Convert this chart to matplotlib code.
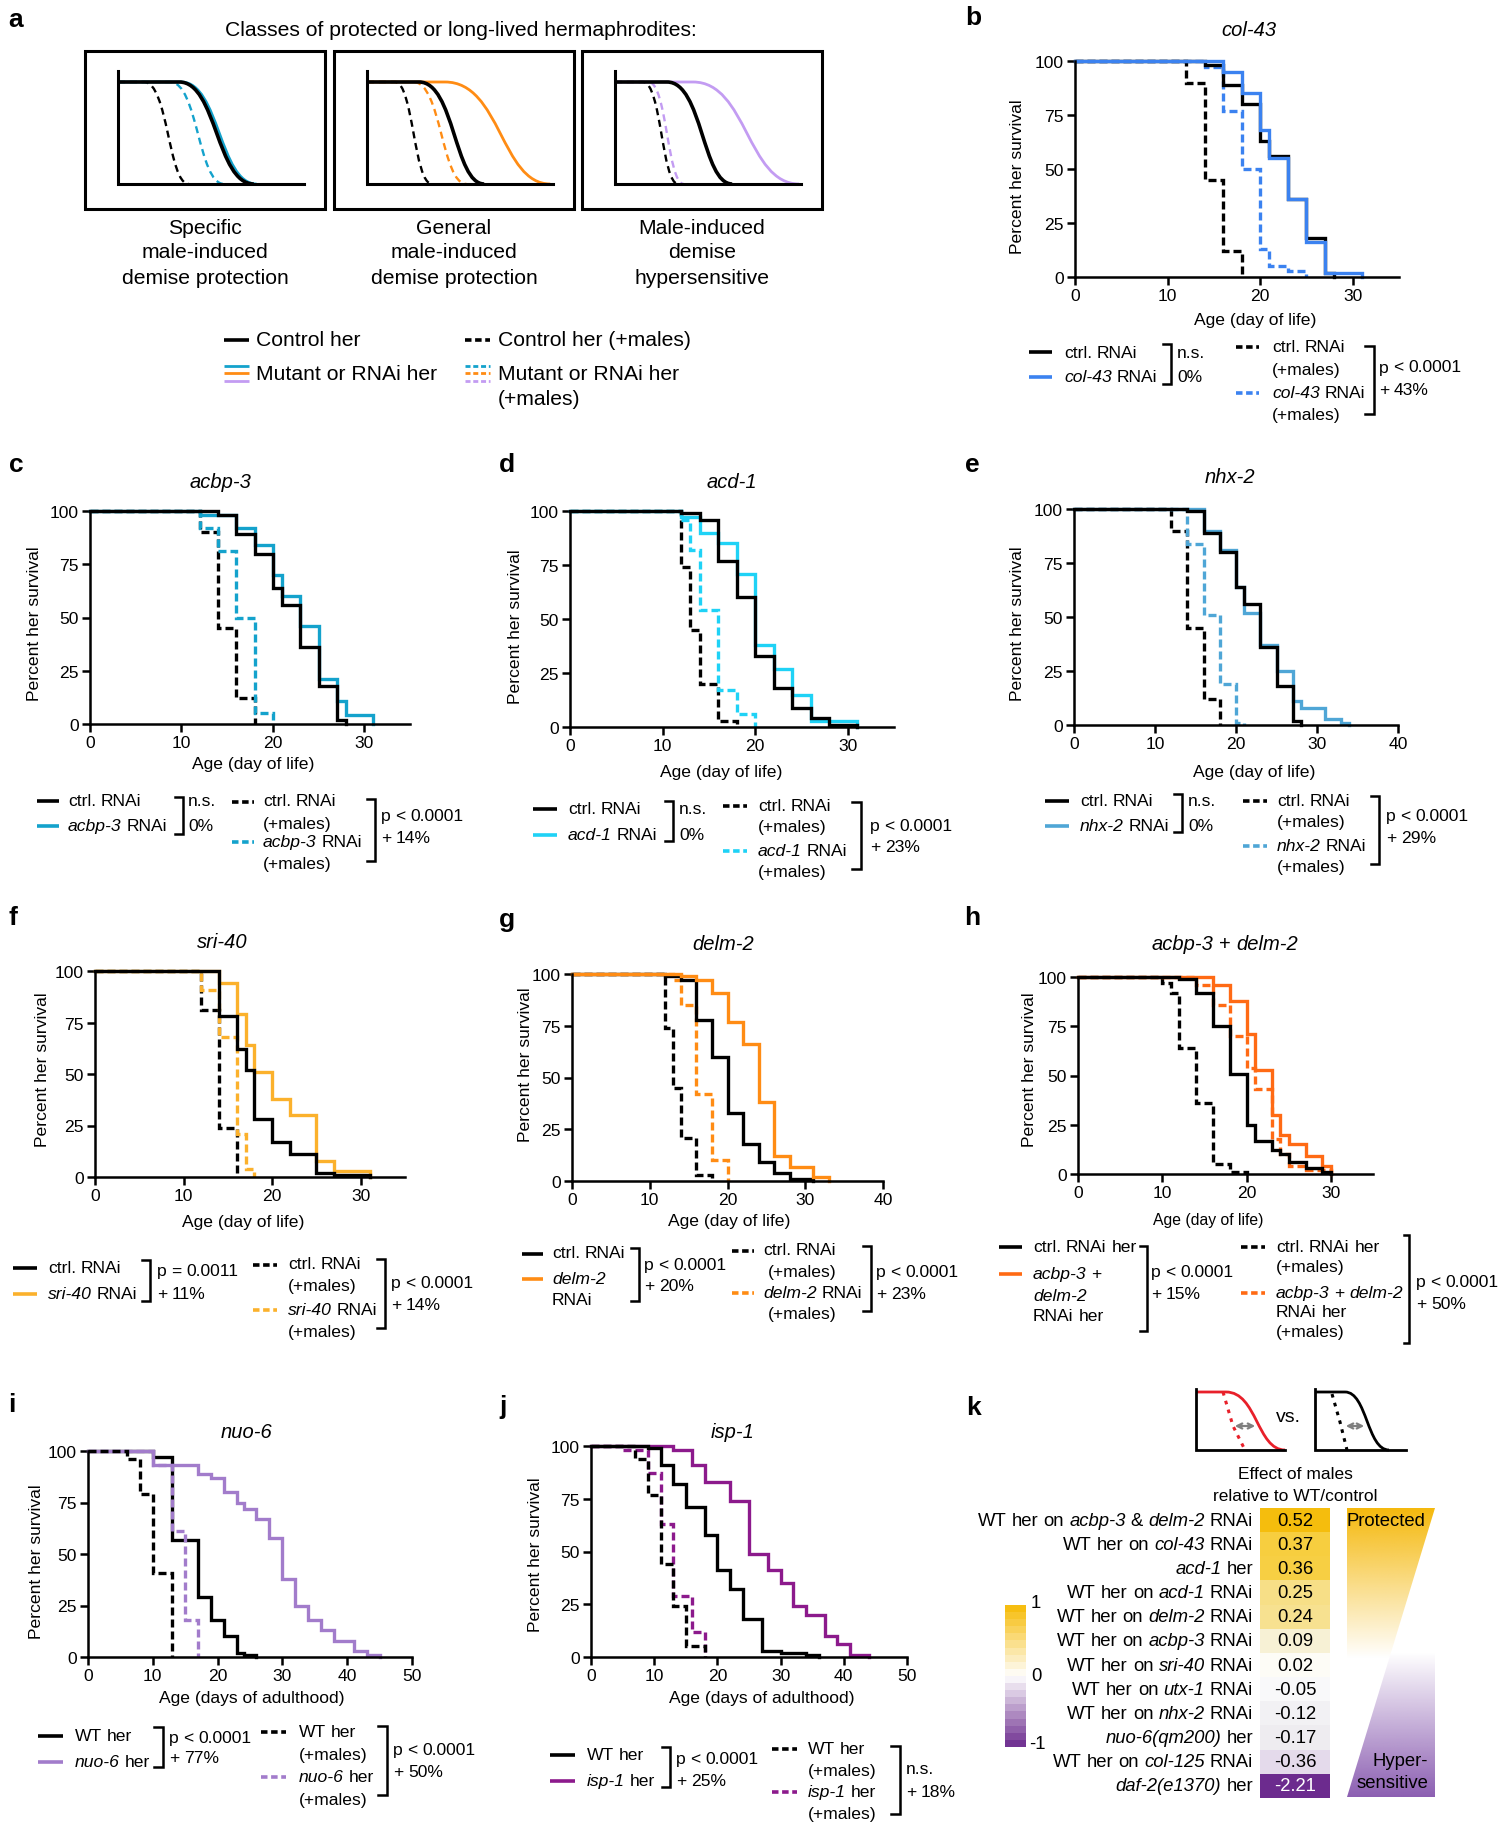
import numpy as np
import matplotlib
matplotlib.use('Agg')
import matplotlib.pyplot as plt
from matplotlib.path import Path
from matplotlib.patches import PathPatch, Rectangle, Polygon, FancyArrowPatch
from matplotlib.colors import LinearSegmentedColormap, Normalize, to_rgb
from matplotlib.offsetbox import TextArea, HPacker, AnnotationBbox

plt.rcParams['font.family'] = ['Liberation Sans', 'DejaVu Sans']

# ======================= DATA =======================
# panel a: schematic curves (start of decline, midpoint, end) as fraction of x-axis
a_specific = [(0.14, 0.27, 0.38), (0.28, 0.43, 0.57), (0.34, 0.545, 0.745), (0.33, 0.53, 0.73)]
a_general = [(0.15, 0.25, 0.35), (0.25, 0.40, 0.535), (0.42, 0.72, 0.985), (0.28, 0.47, 0.63)]
a_hyper = [(0.15, 0.25, 0.34), (0.18, 0.28, 0.37), (0.42, 0.71, 0.99), (0.28, 0.47, 0.63)]
a_captions = [["Specific", "male-induced", "demise protection"],
              ["General", "male-induced", "demise protection"],
              ["Male-induced", "demise", "hypersensitive"]]

# b: col-43
b_ctrl_days = [0, 14, 16, 18, 20, 21, 23, 25, 27, 28]
b_ctrl_surv = [100, 98, 89, 80, 63, 56, 36, 18, 2, 0]
b_rnai_days = [0, 16, 18, 20, 21, 23, 25, 27, 31]
b_rnai_surv = [100, 95, 85, 68, 55, 36, 16, 2, 0]
b_ctrlm_days = [0, 12, 14, 16, 18]
b_ctrlm_surv = [100, 90, 45, 12, 0]
b_rnaim_days = [0, 14, 16, 18, 20, 21, 23, 25]
b_rnaim_surv = [100, 97, 77, 50, 13, 5, 3, 0]

# c: acbp-3
c_ctrl_days = [0, 14, 16, 18, 20, 21, 23, 25, 27, 28]
c_ctrl_surv = [100, 98, 89, 80, 64, 56, 36, 18, 2, 0]
c_rnai_days = [0, 12, 16, 18, 20, 21, 23, 25, 27, 28, 31]
c_rnai_surv = [100, 98, 92, 84, 70, 60, 46, 21, 11, 4, 0]
c_ctrlm_days = [0, 12, 14, 16, 18]
c_ctrlm_surv = [100, 90, 45, 12, 0]
c_rnaim_days = [0, 12, 14, 16, 18, 20]
c_rnaim_surv = [100, 92, 81, 50, 5, 0]

# d: acd-1
d_ctrl_days = [0, 12, 14, 16, 18, 20, 22, 24, 26, 28, 31]
d_ctrl_surv = [100, 99, 96, 77, 60, 33, 18, 9, 4, 1, 0]
d_rnai_days = [0, 12, 14, 16, 18, 20, 22, 24, 26, 31]
d_rnai_surv = [100, 97, 90, 85, 71, 38, 27, 15, 3, 0]
d_ctrlm_days = [0, 12, 13, 14, 16, 18]
d_ctrlm_surv = [100, 74, 45, 20, 3, 0]
d_rnaim_days = [0, 12, 13, 14, 16, 18, 20]
d_rnaim_surv = [100, 96, 82, 54, 17, 6, 0]

# e: nhx-2
e_ctrl_days = [0, 14, 16, 18, 20, 21, 23, 25, 27, 28]
e_ctrl_surv = [100, 99, 89, 80, 64, 56, 36, 18, 2, 0]
e_rnai_days = [0, 16, 18, 20, 21, 23, 25, 27, 28, 31, 33, 34]
e_rnai_surv = [100, 90, 81, 64, 52, 37, 25, 11, 8, 3, 1, 0]
e_ctrlm_days = [0, 12, 14, 16, 18]
e_ctrlm_surv = [100, 90, 45, 12, 0]
e_rnaim_days = [0, 14, 16, 18, 20, 21]
e_rnaim_surv = [100, 84, 51, 19, 1, 0]

# f: sri-40
f_ctrl_days = [0, 14, 16, 17, 18, 20, 22, 25, 27, 31]
f_ctrl_surv = [100, 78, 62, 52, 28, 17, 11, 2, 1, 0]
f_rnai_days = [0, 14, 16, 17, 18, 20, 22, 25, 27, 31]
f_rnai_surv = [100, 94, 79, 64, 51, 38, 30, 8, 3, 0]
f_ctrlm_days = [0, 12, 14, 16]
f_ctrlm_surv = [100, 81, 24, 0]
f_rnaim_days = [0, 12, 14, 16, 17, 18]
f_rnaim_surv = [100, 91, 68, 21, 4, 0]

# g: delm-2
g_ctrl_days = [0, 12, 14, 16, 18, 20, 22, 24, 26, 28, 31]
g_ctrl_surv = [100, 99, 97, 78, 60, 33, 18, 9, 4, 1, 0]
g_rnai_days = [0, 14, 16, 18, 20, 22, 24, 26, 28, 31, 33]
g_rnai_surv = [100, 99, 97, 91, 77, 66, 38, 12, 7, 2, 0]
g_ctrlm_days = [0, 12, 13, 14, 16, 18]
g_ctrlm_surv = [100, 74, 45, 21, 3, 0]
g_rnaim_days = [0, 13, 14, 16, 18, 20]
g_rnaim_surv = [100, 97, 85, 42, 10, 0]

# h: acbp-3 + delm-2
h_ctrl_days = [0, 12, 14, 16, 18, 20, 21, 23, 24, 25, 27, 29, 30]
h_ctrl_surv = [100, 99, 92, 75, 51, 25, 17, 12, 10, 6, 3, 1, 0]
h_rnai_days = [0, 16, 18, 20, 21, 23, 24, 25, 27, 29, 30]
h_rnai_surv = [100, 96, 88, 71, 53, 30, 20, 15, 9, 4, 0]
h_ctrlm_days = [0, 10, 11, 12, 14, 16, 18, 20]
h_ctrlm_surv = [100, 97, 92, 64, 36, 5, 1, 0]
h_rnaim_days = [0, 14, 16, 18, 20, 21, 23, 24, 25, 27, 30]
h_rnaim_surv = [100, 96, 86, 70, 54, 43, 18, 10, 4, 2, 0]

# i: nuo-6
i_wt_days = [0, 10, 13, 17, 19, 21, 23, 24, 26]
i_wt_surv = [100, 97, 57, 29, 18, 10, 2, 1, 0]
i_mut_days = [0, 10, 17, 19, 21, 23, 24, 26, 28, 30, 32, 34, 36, 38, 41, 43, 45]
i_mut_surv = [100, 93, 89, 87, 80, 75, 72, 67, 58, 38, 25, 18, 13, 8, 3, 1, 0]
i_wtm_days = [0, 6, 8, 10, 13]
i_wtm_surv = [100, 96, 79, 41, 0]
i_mutm_days = [0, 10, 13, 15, 17]
i_mutm_surv = [100, 93, 61, 18, 0]

# j: isp-1
j_wt_days = [0, 9, 11, 13, 15, 18, 20, 22, 24, 27, 30, 34, 36]
j_wt_surv = [100, 99, 91, 82, 71, 58, 41, 32, 18, 3, 2, 1, 0]
j_mut_days = [0, 13, 16, 18, 22, 25, 28, 30, 32, 34, 37, 39, 41, 44]
j_mut_surv = [100, 98, 91, 83, 74, 49, 41, 35, 24, 20, 10, 6, 1, 0]
j_wtm_days = [0, 7, 9, 11, 13, 15, 18]
j_wtm_surv = [100, 94, 77, 44, 24, 5, 0]
j_mutm_days = [0, 5, 9, 11, 13, 16, 18]
j_mutm_surv = [100, 98, 87, 63, 29, 12, 0]

# k: heatmap
k_labels = ['WT her on *acbp-3* & *delm-2* RNAi', 'WT her on *col-43* RNAi', '*acd-1* her',
            'WT her on *acd-1* RNAi', 'WT her on *delm-2* RNAi', 'WT her on *acbp-3* RNAi',
            'WT her on *sri-40* RNAi', 'WT her on *utx-1* RNAi', 'WT her on *nhx-2* RNAi',
            '*nuo-6(qm200)* her', 'WT her on *col-125* RNAi', '*daf-2(e1370)* her']
k_values = [0.52, 0.37, 0.36, 0.25, 0.24, 0.09, 0.02, -0.05, -0.12, -0.17, -0.36, -2.21]

# ======================= STYLE =======================
C_TEAL = '#14a2cc'
C_BLUE = '#3b82f0'
C_CYAN = '#1fd2f6'
C_EBLUE = '#4fa6d6'
C_FOR = '#fbb12c'
C_GOR = '#ff8c14'
C_HOR = '#ff6a14'
C_IPUR = '#a27ccb'
C_JPUR = '#8c1a8c'
C_LAV = '#c39cf2'
FS = 12.6

W, H = 1512, 1824
fig = plt.figure(figsize=(W / 100, H / 100), dpi=100)
fig.patch.set_facecolor('white')
ov = fig.add_axes([0, 0, 1, 1])
ov.set_xlim(0, W)
ov.set_ylim(H, 0)
ov.set_autoscale_on(False)
ov.axis('off')
ov.set_zorder(5)


def px_axes(l, t, r, b):
    return fig.add_axes([l / W, 1 - b / H, (r - l) / W, (b - t) / H])


def rich(x, y, s, fs=FS, ha='left', color='k'):
    children = []
    for w in s.split(' '):
        ital = len(w) > 1 and w.startswith('*') and w.endswith('*')
        t = w[1:-1] if ital else w
        children.append(TextArea(t, textprops=dict(fontsize=fs, color=color,
                                                   fontstyle='italic' if ital else 'normal')))
    box = HPacker(children=children, align='baseline', pad=0, sep=0.278 * fs)
    fx = {'left': 0, 'center': 0.5, 'right': 1}[ha]
    ab = AnnotationBbox(box, (x, y), xycoords='data', box_alignment=(fx, 0.5),
                        frameon=False, pad=0, annotation_clip=False)
    ov.add_artist(ab)


def leg_line(x0, x1, y, color, dashed=False, lw=2.6):
    ov.plot([x0, x1], [y, y], color=color, lw=lw, ls=(0, (1.8, 1.0)) if dashed else '-',
            solid_capstyle='butt', dash_capstyle='butt')


def bracket(x, y0, y1, xt):
    ov.plot([xt, x, x, xt], [y0, y0, y1, y1], color='k', lw=1.8, solid_joinstyle='miter')


def km_panel(box, xmax, xticks, curves):
    ax = px_axes(*box)
    for days, surv, color, dashed in curves:
        ax.step(days, surv, where='post', color=color, lw=2.4,
                ls=(0, (2.4, 1.2)) if dashed else '-', clip_on=False,
                solid_joinstyle='miter', dash_joinstyle='miter')
    ax.set_xlim(0, xmax)
    ax.set_ylim(0, 100)
    ax.set_xticks(xticks)
    ax.set_yticks([0, 25, 50, 75, 100])
    for s in ['top', 'right']:
        ax.spines[s].set_visible(False)
    for s in ['left', 'bottom']:
        ax.spines[s].set_linewidth(1.8)
    ax.tick_params(direction='out', length=6, width=1.8, labelsize=FS, pad=2)
    ax.patch.set_alpha(0)
    return ax


def labels(title_xy, title, xl_xy, xl, yl_xy, xfs=FS):
    rich(title_xy[0], title_xy[1], title, fs=14.5, ha='center')
    ov.text(xl_xy[0], xl_xy[1], xl, fontsize=xfs, ha='center', va='center')
    ov.text(yl_xy[0], yl_xy[1], 'Percent her survival', fontsize=FS, ha='center',
            va='center', rotation=90)


def panel_letter(x, y, s):
    ov.text(x, y, s, fontsize=19, fontweight='bold', ha='center', va='center')


# ======================= PANEL a =======================
panel_letter(16, 20, 'a')
ov.text(461, 30, 'Classes of protected or long-lived hermaphrodites:', fontsize=15.2,
        ha='center', va='center')
box_lefts = [85, 334, 582]
box_cols = [C_TEAL, C_GOR, C_LAV]
for bi, (bl, params, col, cap) in enumerate(zip(box_lefts, [a_specific, a_general, a_hyper],
                                                box_cols, a_captions)):
    ov.add_patch(Rectangle((bl, 52), 240, 158, fill=False, lw=2.2, ec='k'))
    ox, w0, ytop, ybot = bl + 33, 186, 83, 185
    styles = [('k', True, 1.7), (col, True, 1.7), (col, False, 2.0), ('k', False, 2.6)]
    for (s, m, e), (c, dashed, lw) in zip(params, styles):
        verts = [(ox, ytop), (ox + s * w0, ytop), (ox + m * w0, ytop), (ox + m * w0, ybot),
                 (ox + e * w0, ybot)]
        codes = [Path.MOVETO, Path.LINETO, Path.CURVE4, Path.CURVE4, Path.CURVE4]
        ov.add_patch(PathPatch(Path(verts, codes), fill=False, ec=c, lw=lw,
                               ls=(0, (3, 2)) if dashed else '-'))
    ov.plot([ox, ox, ox + w0], [72, ybot, ybot], color='k', lw=2.2, solid_joinstyle='miter')
    for li, line in enumerate(cap):
        ov.text(bl + 120, 228 + li * 25, line, fontsize=15.2, ha='center', va='center')

leg_line(224, 249, 341, 'k', lw=2.6)
ov.text(256, 341, 'Control her', fontsize=15.2, va='center')
for yy, c in zip([367, 374, 382], box_cols):
    leg_line(224, 249, yy, c, lw=2.0)
ov.text(256, 374, 'Mutant or RNAi her', fontsize=15.2, va='center')
leg_line(465, 490, 341, 'k', True, lw=2.6)
ov.text(498, 341, 'Control her (+males)', fontsize=15.2, va='center')
for yy, c in zip([367, 374, 382], box_cols):
    leg_line(465, 490, yy, c, True, lw=2.0)
ov.text(498, 374, 'Mutant or RNAi her', fontsize=15.2, va='center')
ov.text(498, 400, '(+males)', fontsize=15.2, va='center')

# ======================= PANEL b =======================
panel_letter(973, 18, 'b')
km_panel((1075, 62, 1399, 278), 35, [0, 10, 20, 30],
         [(b_ctrlm_days, b_ctrlm_surv, 'k', True), (b_rnaim_days, b_rnaim_surv, C_BLUE, True),
          (b_ctrl_days, b_ctrl_surv, 'k', False), (b_rnai_days, b_rnai_surv, C_BLUE, False)])
labels((1249, 30), '*col-43*', (1255, 320), 'Age (day of life)', (1018, 177))
leg_line(1029, 1052, 353, 'k'); rich(1064, 353, 'ctrl. RNAi')
leg_line(1029, 1052, 378, C_BLUE); rich(1064, 378, '*col-43* RNAi')
bracket(1171, 345, 385, 1163); rich(1177, 353, 'n.s.'); rich(1177, 378, '0%')
leg_line(1236, 1259, 348, 'k', True); rich(1272, 348, 'ctrl. RNAi'); rich(1272, 371, '(+males)')
leg_line(1236, 1259, 394, C_BLUE, True); rich(1272, 394, '*col-43* RNAi'); rich(1272, 416, '(+males)')
bracket(1374, 347, 415, 1365); rich(1379, 368, 'p < 0.0001'); rich(1379, 391, '+ 43%')

# ======================= PANEL c =======================
panel_letter(16, 465, 'c')
km_panel((90, 512, 410, 725), 35, [0, 10, 20, 30],
         [(c_ctrlm_days, c_ctrlm_surv, 'k', True), (c_rnaim_days, c_rnaim_surv, C_TEAL, True),
          (c_rnai_days, c_rnai_surv, C_TEAL, False), (c_ctrl_days, c_ctrl_surv, 'k', False)])
labels((220, 483), '*acbp-3*', (253, 765), 'Age (day of life)', (35, 624))
leg_line(37, 59, 802, 'k'); rich(68, 802, 'ctrl. RNAi')
leg_line(37, 59, 827, C_TEAL); rich(68, 827, '*acbp-3* RNAi')
bracket(183, 798, 835, 175); rich(188, 802, 'n.s.'); rich(188, 827, '0%')
leg_line(232, 254, 803, 'k', True); rich(263, 802, 'ctrl. RNAi'); rich(263, 825, '(+males)')
leg_line(232, 254, 843, C_TEAL, True); rich(263, 843, '*acbp-3* RNAi'); rich(263, 865, '(+males)')
bracket(375, 800, 862, 367); rich(381, 817, 'p < 0.0001'); rich(381, 839, '+ 14%')

# ======================= PANEL d =======================
panel_letter(507, 465, 'd')
km_panel((570, 512, 894, 728), 35, [0, 10, 20, 30],
         [(d_ctrlm_days, d_ctrlm_surv, 'k', True), (d_rnaim_days, d_rnaim_surv, C_CYAN, True),
          (d_rnai_days, d_rnai_surv, C_CYAN, False), (d_ctrl_days, d_ctrl_surv, 'k', False)])
labels((732, 483), '*acd-1*', (721, 773), 'Age (day of life)', (515, 627))
leg_line(533, 557, 810, 'k'); rich(568, 810, 'ctrl. RNAi')
leg_line(533, 557, 836, C_CYAN); rich(568, 836, '*acd-1* RNAi')
bracket(673, 802, 842, 665); rich(679, 810, 'n.s.'); rich(679, 836, '0%')
leg_line(723, 747, 807, 'k', True); rich(758, 807, 'ctrl. RNAi'); rich(758, 828, '(+males)')
leg_line(723, 747, 852, C_CYAN, True); rich(758, 852, '*acd-1* RNAi'); rich(758, 873, '(+males)')
bracket(861, 803, 870, 852); rich(870, 827, 'p < 0.0001'); rich(870, 848, '+ 23%')

# ======================= PANEL e =======================
panel_letter(972, 465, 'e')
km_panel((1074, 510, 1398, 726), 40, [0, 10, 20, 30, 40],
         [(e_ctrlm_days, e_ctrlm_surv, 'k', True), (e_rnaim_days, e_rnaim_surv, C_EBLUE, True),
          (e_rnai_days, e_rnai_surv, C_EBLUE, False), (e_ctrl_days, e_ctrl_surv, 'k', False)])
labels((1230, 478), '*nhx-2*', (1254, 773), 'Age (day of life)', (1018, 624))
leg_line(1045, 1069, 802, 'k'); rich(1080, 802, 'ctrl. RNAi')
leg_line(1045, 1069, 827, C_EBLUE); rich(1080, 827, '*nhx-2* RNAi')
bracket(1182, 795, 833, 1174); rich(1188, 802, 'n.s.'); rich(1188, 827, '0%')
leg_line(1243, 1267, 802, 'k', True); rich(1277, 802, 'ctrl. RNAi'); rich(1277, 823, '(+males)')
leg_line(1243, 1267, 847, C_EBLUE, True); rich(1277, 847, '*nhx-2* RNAi'); rich(1277, 868, '(+males)')
bracket(1379, 797, 865, 1371); rich(1386, 817, 'p < 0.0001'); rich(1386, 839, '+ 29%')

# ======================= PANEL f =======================
panel_letter(13, 918, 'f')
km_panel((95, 972, 405, 1178), 35, [0, 10, 20, 30],
         [(f_ctrlm_days, f_ctrlm_surv, 'k', True), (f_rnaim_days, f_rnaim_surv, C_FOR, True),
          (f_rnai_days, f_rnai_surv, C_FOR, False), (f_ctrl_days, f_ctrl_surv, 'k', False)])
labels((222, 943), '*sri-40*', (243, 1223), 'Age (day of life)', (43, 1070))
leg_line(13, 37, 1269, 'k'); rich(48, 1269, 'ctrl. RNAi')
leg_line(13, 37, 1295, C_FOR); rich(48, 1295, '*sri-40* RNAi')
bracket(150, 1261, 1302, 142); rich(157, 1272, 'p = 0.0011'); rich(157, 1295, '+ 11%')
leg_line(253, 277, 1266, 'k', True); rich(288, 1265, 'ctrl. RNAi'); rich(288, 1287, '(+males)')
leg_line(253, 277, 1311, C_FOR, True); rich(288, 1311, '*sri-40* RNAi'); rich(288, 1333, '(+males)')
bracket(385, 1260, 1329, 377); rich(391, 1284, 'p < 0.0001'); rich(391, 1306, '+ 14%')

# ======================= PANEL g =======================
panel_letter(507, 920, 'g')
km_panel((572, 975, 883, 1182), 40, [0, 10, 20, 30, 40],
         [(g_ctrlm_days, g_ctrlm_surv, 'k', True), (g_rnaim_days, g_rnaim_surv, C_GOR, True),
          (g_ctrl_days, g_ctrl_surv, 'k', False), (g_rnai_days, g_rnai_surv, C_GOR, False)])
labels((723, 945), '*delm-2*', (729, 1222), 'Age (day of life)', (525, 1065))
leg_line(522, 543, 1255, 'k'); rich(552, 1254, 'ctrl. RNAi')
leg_line(522, 543, 1280, C_GOR); rich(552, 1280, '*delm-2*'); rich(552, 1301, 'RNAi')
bracket(639, 1249, 1302, 631); rich(644, 1266, 'p < 0.0001'); rich(644, 1287, '+ 20%')
leg_line(732, 754, 1252, 'k', True); rich(763, 1251, 'ctrl. RNAi'); rich(768, 1273, '(+males)')
leg_line(732, 754, 1294, C_GOR, True); rich(763, 1294, '*delm-2* RNAi'); rich(768, 1315, '(+males)')
bracket(871, 1247, 1312, 863); rich(876, 1273, 'p < 0.0001'); rich(876, 1295, '+ 23%')

# ======================= PANEL h =======================
panel_letter(972, 918, 'h')
km_panel((1078, 978, 1373, 1175), 35, [0, 10, 20, 30],
         [(h_ctrlm_days, h_ctrlm_surv, 'k', True), (h_rnaim_days, h_rnaim_surv, C_HOR, True),
          (h_rnai_days, h_rnai_surv, C_HOR, False), (h_ctrl_days, h_ctrl_surv, 'k', False)])
labels((1225, 945), '*acbp-3* + *delm-2*', (1208, 1221), 'Age (day of life)', (1029, 1070),
       xfs=11.3)
leg_line(999, 1022, 1248, 'k'); rich(1033, 1248, 'ctrl. RNAi her')
leg_line(999, 1022, 1275, C_HOR); rich(1033, 1275, '*acbp-3* +'); rich(1033, 1297, '*delm-2*')
rich(1033, 1317, 'RNAi her')
bracket(1147, 1247, 1332, 1140); rich(1151, 1273, 'p < 0.0001'); rich(1151, 1295, '+ 15%')
leg_line(1241, 1265, 1248, 'k', True); rich(1276, 1248, 'ctrl. RNAi her'); rich(1276, 1268, '(+males)')
leg_line(1241, 1265, 1294, C_HOR, True); rich(1276, 1294, '*acbp-3* + *delm-2*')
rich(1276, 1313, 'RNAi her'); rich(1276, 1333, '(+males)')
bracket(1409, 1236, 1344, 1404); rich(1416, 1283, 'p < 0.0001'); rich(1416, 1305, '+ 50%')

# ======================= PANEL i =======================
panel_letter(12, 1405, 'i')
km_panel((88, 1452, 412, 1658), 50, [0, 10, 20, 30, 40, 50],
         [(i_wt_days, i_wt_surv, 'k', False), (i_mut_days, i_mut_surv, C_IPUR, False),
          (i_mutm_days, i_mutm_surv, C_IPUR, True), (i_wtm_days, i_wtm_surv, 'k', True)])
labels((247, 1433), '*nuo-6*', (252, 1699), 'Age (days of adulthood)', (37, 1562))
leg_line(38, 63, 1737, 'k'); rich(75, 1737, 'WT her')
leg_line(38, 63, 1763, C_IPUR); rich(75, 1763, '*nuo-6* her')
bracket(163, 1728, 1768, 154); rich(169, 1739, 'p < 0.0001'); rich(169, 1759, '+ 77%')
leg_line(261, 286, 1733, 'k', True); rich(299, 1733, 'WT her'); rich(299, 1756, '(+males)')
leg_line(261, 286, 1778, C_IPUR, True); rich(299, 1778, '*nuo-6* her'); rich(299, 1801, '(+males)')
bracket(387, 1727, 1796, 378); rich(393, 1751, 'p < 0.0001'); rich(393, 1773, '+ 50%')

# ======================= PANEL j =======================
panel_letter(503, 1407, 'j')
km_panel((591, 1447, 907, 1658), 50, [0, 10, 20, 30, 40, 50],
         [(j_mut_days, j_mut_surv, C_JPUR, False), (j_mutm_days, j_mutm_surv, C_JPUR, True),
          (j_wtm_days, j_wtm_surv, 'k', True), (j_wt_days, j_wt_surv, 'k', False)])
labels((733, 1433), '*isp-1*', (762, 1699), 'Age (days of adulthood)', (535, 1555))
leg_line(550, 575, 1756, 'k'); rich(587, 1756, 'WT her')
leg_line(550, 575, 1782, C_JPUR); rich(587, 1782, '*isp-1* her')
bracket(670, 1748, 1788, 662); rich(676, 1760, 'p < 0.0001'); rich(676, 1782, '+ 25%')
leg_line(772, 797, 1750, 'k', True); rich(808, 1750, 'WT her'); rich(808, 1772, '(+males)')
leg_line(772, 797, 1793, C_JPUR, True); rich(808, 1793, '*isp-1* her'); rich(808, 1815, '(+males)')
bracket(900, 1747, 1815, 891); rich(906, 1770, 'n.s.'); rich(906, 1793, '+ 18%')

# ======================= PANEL k =======================
panel_letter(973, 1408, 'k')
# mini schematics
for (ax0, ax1, cs, cm, ce, dots, col, arr) in [
        (1196, 1285, 1226, 1257, 1285, [(1223, 1393), (1233, 1427), (1245, 1451)], '#e8202a', (1232, 1258)),
        (1315, 1406, 1345, 1367, 1389, [(1332, 1395), (1340, 1423), (1347, 1451)], 'k', (1343, 1367))]:
    ov.plot([ax0, ax0, ax1], [1390, 1451, 1451], color='k', lw=2.0, solid_joinstyle='miter')
    verts = [(ax0, 1393), (cs, 1393), (cm, 1393), (cm, 1451), (ce, 1451)]
    codes = [Path.MOVETO, Path.LINETO, Path.CURVE4, Path.CURVE4, Path.CURVE4]
    ov.add_patch(PathPatch(Path(verts, codes), fill=False, ec=col, lw=2.0))
    ov.plot([p[0] for p in dots], [p[1] for p in dots], color=col, lw=2.2, ls=(0, (1.2, 1.8)))
    ov.add_patch(FancyArrowPatch((arr[0], 1427), (arr[1], 1427), arrowstyle='<->',
                                 mutation_scale=9, color='#7f7f7f', lw=1.6))
ov.text(1288, 1418, 'vs.', fontsize=14, ha='center', va='center')
ov.text(1295, 1475, 'Effect of males', fontsize=12.5, ha='center', va='center')
ov.text(1295, 1497, 'relative to WT/control', fontsize=12.5, ha='center', va='center')

k_nodes = [-1, -0.36, -0.17, 0, 0.09, 0.25, 0.37, 0.52, 1]
k_node_cols = ['#6c2b8e', '#e5dcec', '#eeecf0', '#ffffff', '#f7f2d6', '#f7e08b', '#f8cf40',
               '#f6be0e', '#f5b800']
k_cmap = LinearSegmentedColormap.from_list(
    'k', [((v + 1) / 2, c) for v, c in zip(k_nodes, k_node_cols)])
hm = px_axes(1260, 1509, 1330, 1799)
hm.imshow(np.array(k_values)[:, None], cmap=k_cmap, norm=Normalize(-1, 1), aspect='auto',
          interpolation='nearest')
hm.set_axis_off()
row_h = (1799 - 1509) / len(k_values)
for i, (lab, v) in enumerate(zip(k_labels, k_values)):
    hm.text(0, i, '%.2f' % v, ha='center', va='center', fontsize=13.3,
            color='white' if v < -1 else 'k')
    rich(1253, 1509 + (i + 0.5) * row_h, lab, fs=13.3, ha='right')

# colorbar
cb_cmap = LinearSegmentedColormap.from_list('cb', [(0, '#6c2b8e'), (0.5, '#ffffff'), (1, '#f6bb06')])
cb = px_axes(1005, 1606, 1026, 1748)
cb_levels = np.linspace(0.95, -0.95, 20)
cb.imshow(cb_levels[:, None], cmap=cb_cmap, norm=Normalize(-1, 1), aspect='auto',
          interpolation='nearest')
cb.set_axis_off()
ov.text(1031, 1604, '1', fontsize=13.3, ha='left', va='center')
ov.text(1031, 1677, '0', fontsize=13.3, ha='left', va='center')
ov.text(1029, 1745, '-1', fontsize=13.3, ha='left', va='center')

# gradient wedges
gx0, gx1, gy0, gy1 = 1347, 1435, 1509, 1798
n = 256
frac = np.linspace(0, 1, n)[:, None]
yel = np.zeros((n, 2, 4))
yel[..., :3] = to_rgb('#f5b90d')
yel[..., 3] = np.clip(1 - frac / 0.52, 0, 1)
pur = np.zeros((n, 2, 4))
pur[..., :3] = to_rgb('#8c5fb2')
pur[..., 3] = np.clip((frac - 0.5) / 0.5, 0, 1)
poly_y = Polygon([(gx0, gy0), (gx1, gy0), (gx0, gy1)], transform=ov.transData)
poly_p = Polygon([(gx0, gy1), (gx1, gy1), (gx1, gy0)], transform=ov.transData)
im1 = ov.imshow(yel, extent=(gx0, gx1, gy1, gy0), aspect='auto', interpolation='bilinear')
im1.set_clip_path(poly_y)
im2 = ov.imshow(pur, extent=(gx0, gx1, gy1, gy0), aspect='auto', interpolation='bilinear')
im2.set_clip_path(poly_p)
ov.set_xlim(0, W)
ov.set_ylim(H, 0)
rich(1347, 1522, 'Protected', fs=13.3, ha='left')
rich(1428, 1762, 'Hyper-', fs=13.3, ha='right')
rich(1428, 1784, 'sensitive', fs=13.3, ha='right')

fig.savefig('out.png', dpi=100, facecolor='white')
